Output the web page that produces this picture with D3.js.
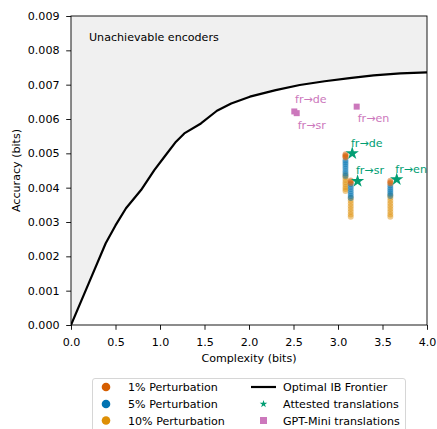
<!DOCTYPE html>
<html>
<head>
<meta charset="utf-8">
<script src="https://cdn.jsdelivr.net/npm/d3@7"></script>
<style>
  body { margin: 0; background: #fff; }
  text { font-family: "DejaVu Sans", sans-serif; }
</style>
</head>
<body>
<div id="the_chart"></div>
<script>
// frontier of the optimal IB curve (complexity, accuracy)
var frontierX = [0, 0.2, 0.39, 0.5, 0.618, 0.787, 0.936, 1.05, 1.18, 1.273, 1.46, 1.64, 1.8, 2.01, 2.3, 2.57, 2.85, 3.13, 3.4, 3.7, 4.0];
var frontierY = [0, 0.00122, 0.00238, 0.0029, 0.0034, 0.00393, 0.00451, 0.0049, 0.00534, 0.00558, 0.00587, 0.00624, 0.00645, 0.00665, 0.00684, 0.00699, 0.0071, 0.00719, 0.00727, 0.00733, 0.00736];

var pairs = ["fr\u2192de", "fr\u2192sr", "fr\u2192en"];
var pairComplexity = [3.084, 3.143, 3.588];

// perturbed accuracy values per pair
var pert1 = [
  [0.00497, 0.00494, 0.00491, 0.00488],
  [0.00421, 0.00417, 0.00413],
  [0.00420, 0.00416, 0.00412]
];
var pert5 = [
  [0.00480, 0.00474, 0.00468, 0.00462, 0.00455, 0.00448, 0.00441, 0.00434],
  [0.00410, 0.00403, 0.00396, 0.00389, 0.00382, 0.00376, 0.00370],
  [0.00406, 0.00400, 0.00394, 0.00388, 0.00382, 0.00376]
];
var pert10 = [
  [0.00437, 0.00430, 0.00423, 0.00416, 0.00409, 0.00402, 0.00396, 0.00390],
  [0.00370, 0.00362, 0.00354, 0.00346, 0.00338, 0.00330, 0.00322, 0.00315],
  [0.00378, 0.00370, 0.00362, 0.00354, 0.00346, 0.00338, 0.00330, 0.00322, 0.00315]
];

var attestedX = [3.16, 3.22, 3.66];
var attestedY = [0.00500, 0.00419, 0.00424];
var gptX = [2.509, 2.536, 3.21];
var gptY = [0.00622, 0.00617, 0.00636];

var xTicks = [0, 0.5, 1, 1.5, 2, 2.5, 3, 3.5, 4];
var yTicks = [0, 0.001, 0.002, 0.003, 0.004, 0.005, 0.006, 0.007, 0.008, 0.009];

var colors = { p1: "#d55e00", p5: "#0173b2", p10: "#de8f05", att: "#029e73", gpt: "#cc78bc" };

var w = 437, h = 429;
var padL = 71, padR = 427, padT = 16, padB = 325;
var fs = 11.1;

var svg = d3.select("#the_chart").append("svg")
    .attr("width", w).attr("height", h);

var xscale = d3.scaleLinear().domain([0, 4]).range([padL, padR]);
var yscale = d3.scaleLinear().domain([0, 0.009]).range([padB, padT]);

var frontier = frontierX.map(function(x, i) { return [x, frontierY[i]]; });

svg.append("defs").append("clipPath").attr("id", "clip")
  .append("rect").attr("x", padL).attr("y", padT).attr("width", padR - padL).attr("height", padB - padT);

var plot = svg.append("g").attr("clip-path", "url(#clip)");

// unachievable region
var area = d3.area()
    .x(function(d) { return xscale(d[0]); })
    .y0(yscale(0.009))
    .y1(function(d) { return yscale(d[1]); });
plot.append("path").datum(frontier)
    .attr("d", area).attr("fill", "#f0f0f0");

plot.append("text")
    .attr("x", 89).attr("y", 41)
    .attr("font-size", fs).attr("fill", "#000")
    .text("Unachievable encoders");

// perturbation points
function drawPert(data, color) {
  data.forEach(function(vals, i) {
    plot.selectAll(null).data(vals).enter().append("circle")
      .attr("cx", xscale(pairComplexity[i]))
      .attr("cy", function(d) { return yscale(d); })
      .attr("r", 3)
      .attr("fill", color)
      .attr("fill-opacity", 0.45);
  });
}
drawPert(pert10, colors.p10);
drawPert(pert5, colors.p5);
drawPert(pert1, colors.p1);

// frontier line
plot.append("path").datum(frontier)
    .attr("d", d3.line().x(function(d) { return xscale(d[0]); }).y(function(d) { return yscale(d[1]); }))
    .attr("fill", "none").attr("stroke", "#000").attr("stroke-width", 2.2)
    .attr("stroke-linejoin", "round");

// attested translations
var star = d3.symbol().type(d3.symbolStar).size(55);
attestedX.forEach(function(x, i) {
  plot.append("path").attr("d", star)
    .attr("transform", "translate(" + xscale(x) + "," + yscale(attestedY[i]) + ")")
    .attr("fill", colors.att);
});
var attOff = [[-1.3, -6.6], [-1.7, -6.7], [-1.4, -6]];
attestedX.forEach(function(x, i) {
  svg.append("text")
    .attr("x", xscale(x) + attOff[i][0]).attr("y", yscale(attestedY[i]) + attOff[i][1])
    .attr("font-size", fs).attr("fill", colors.att)
    .text(pairs[i]);
});

// GPT-Mini translations
gptX.forEach(function(x, i) {
  plot.append("rect")
    .attr("x", xscale(x) - 3).attr("y", yscale(gptY[i]) - 3)
    .attr("width", 6).attr("height", 6)
    .attr("fill", colors.gpt);
});
var gptOff = [[0.7, -8.7], [1, 15.7], [1, 15.6]];
gptX.forEach(function(x, i) {
  svg.append("text")
    .attr("x", xscale(x) + gptOff[i][0]).attr("y", yscale(gptY[i]) + gptOff[i][1])
    .attr("font-size", fs).attr("fill", colors.gpt)
    .text(pairs[i]);
});

// axes
var xaxis = d3.axisBottom(xscale).tickValues(xTicks).tickFormat(d3.format(".1f")).tickSizeOuter(0).tickSize(4.8);
var yaxis = d3.axisLeft(yscale).tickValues(yTicks).tickFormat(d3.format(".3f")).tickSizeOuter(0).tickSize(4.8);

var gX = svg.append("g").attr("transform", "translate(0," + padB + ")").call(xaxis);
var gY = svg.append("g").attr("transform", "translate(" + padL + ",0)").call(yaxis);
[gX, gY].forEach(function(g) {
  g.select(".domain").remove();
  g.selectAll("line").attr("stroke", "#000").attr("stroke-width", 0.9);
  g.selectAll("text").attr("font-size", fs).attr("fill", "#000")
    .style("font-family", "DejaVu Sans");
});
gX.selectAll("text").attr("dy", "0.71em").attr("y", 13.2);
gY.selectAll("text").attr("x", -11.5);

svg.append("rect")
    .attr("x", padL).attr("y", padT).attr("width", padR - padL).attr("height", padB - padT)
    .attr("fill", "none").attr("stroke", "#000").attr("stroke-width", 0.9);

svg.append("text")
    .attr("x", (padL + padR) / 2).attr("y", 361.5)
    .attr("text-anchor", "middle").attr("font-size", fs)
    .text("Complexity (bits)");
svg.append("text")
    .attr("transform", "translate(19.5," + ((padT + padB) / 2) + ") rotate(-90)")
    .attr("text-anchor", "middle").attr("font-size", fs)
    .text("Accuracy (bits)");

// legend
var lg = svg.append("g");
lg.append("rect")
    .attr("x", 92.5).attr("y", 378.5).attr("width", 313).attr("height", 60)
    .attr("rx", 2.5)
    .attr("fill", "#fff").attr("stroke", "#ccc").attr("stroke-width", 0.8);

var legLeft = ["1% Perturbation", "5% Perturbation", "10% Perturbation"];
var legLeftCol = [colors.p1, colors.p5, colors.p10];
var rowsY = [387, 404, 420.5];
legLeft.forEach(function(t, i) {
  lg.append("circle").attr("cx", 106).attr("cy", rowsY[i]).attr("r", 4.3).attr("fill", legLeftCol[i]);
  lg.append("text").attr("x", 128).attr("y", rowsY[i] + 4).attr("font-size", fs).text(t);
});

lg.append("line").attr("x1", 251).attr("x2", 276).attr("y1", rowsY[0]).attr("y2", rowsY[0])
    .attr("stroke", "#000").attr("stroke-width", 2.2);
lg.append("text").attr("x", 283).attr("y", rowsY[0] + 4).attr("font-size", fs).text("Optimal IB Frontier");
lg.append("path").attr("d", d3.symbol().type(d3.symbolStar).size(18))
    .attr("transform", "translate(263.5," + rowsY[1] + ")").attr("fill", colors.att);
lg.append("text").attr("x", 283).attr("y", rowsY[1] + 4).attr("font-size", fs).text("Attested translations");
lg.append("rect").attr("x", 260).attr("y", rowsY[2] - 3.5).attr("width", 7).attr("height", 7).attr("fill", colors.gpt);
lg.append("text").attr("x", 283).attr("y", rowsY[2] + 4).attr("font-size", fs).text("GPT-Mini translations");
</script>
</body>
</html>
